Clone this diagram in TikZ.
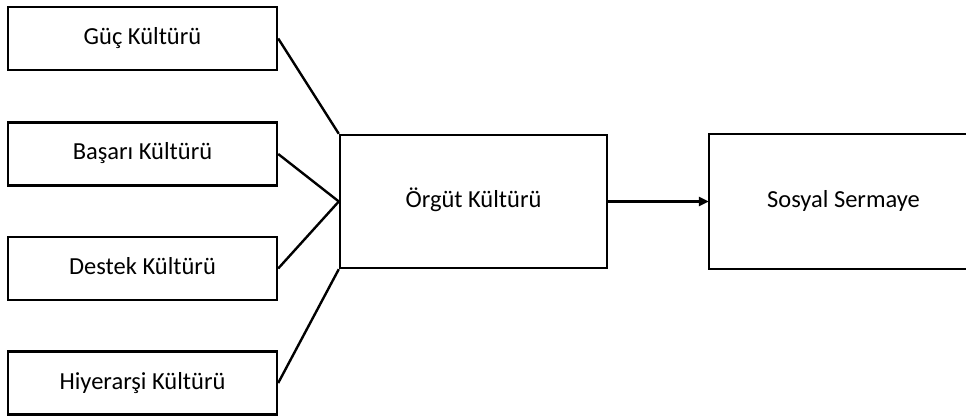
\documentclass[tikz,border=0pt]{standalone}
\usepackage{fontspec}
\setmainfont{Carlito}
\usetikzlibrary{arrows.meta}
\tikzset{
  box/.style={draw=black, line width=2.4pt, rectangle, inner sep=0pt,
    font=\fontsize{24.5}{28}\selectfont, text height=17pt, text depth=5pt},
  small/.style={box, minimum width=269pt, minimum height=63pt},
  big/.style={box, minimum width=267pt, minimum height=133pt},
  conn/.style={line width=2.4pt},
}
\begin{document}
\begin{tikzpicture}[x=1pt,y=-1pt]
\useasboundingbox (0,0) rectangle (966,419);
\begin{scope}
\clip (0,0) rectangle (966,419);
\node[small] (guc) at (142.5,38.5) {Güç Kültürü};
\node[small] (basari) at (142.5,154) {Başarı Kültürü};
\node[small] (destek) at (142.5,268.5) {Destek Kültürü};
\node[small] (hiy) at (142.5,383) {Hiyerarşi Kültürü};
\node[big] (orgut) at (473.5,201.5) {Örgüt Kültürü};
\node[big, draw=none] (sosyal) at (843.5,201.5) {Sosyal Sermaye};
\draw[conn] ([xshift=20pt]sosyal.north east) -- (sosyal.north west) -- (sosyal.south west) -- ([xshift=20pt]sosyal.south east);
\draw[conn] (guc.east) -- (orgut.north west);
\draw[conn] (basari.east) -- (orgut.west);
\draw[conn] (destek.east) -- (orgut.west);
\draw[conn] (hiy.east) -- (orgut.south west);
\draw[conn, -{Triangle[length=10pt,width=9pt]}] (orgut.east) -- (sosyal.west);
\end{scope}
\end{tikzpicture}
\end{document}
